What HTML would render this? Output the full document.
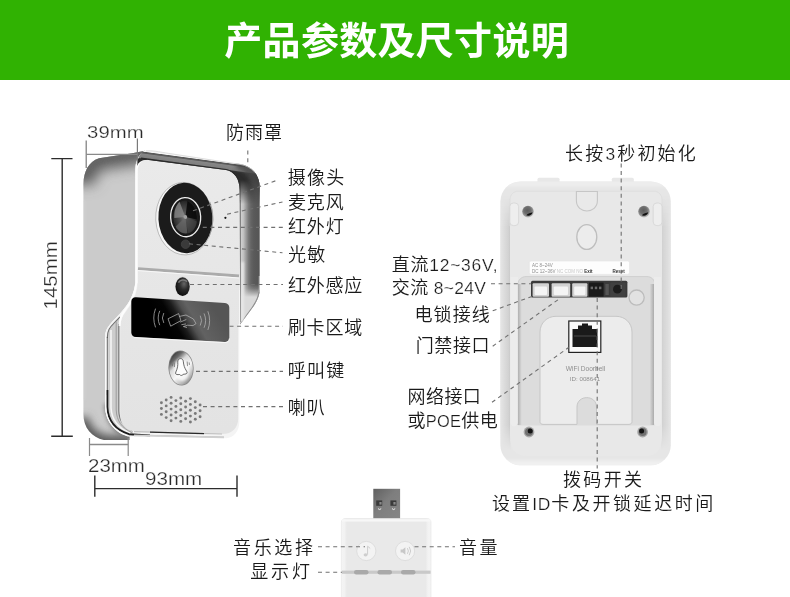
<!DOCTYPE html>
<html lang="zh-CN">
<head>
<meta charset="utf-8">
<title>产品参数及尺寸说明</title>
<style>
html,body{margin:0;padding:0;background:#fff;}
body{width:790px;height:597px;overflow:hidden;position:relative;font-family:"Liberation Sans","Noto Sans CJK SC",sans-serif;}
#stage{will-change:transform;position:absolute;left:0;top:0;width:790px;height:597px;display:block;}
.hd{font-family:"Liberation Sans","Noto Sans CJK SC",sans-serif;font-weight:700;font-size:38px;fill:#fff;letter-spacing:0.3px;}
.lb{font-family:"Liberation Sans","Noto Sans CJK SC",sans-serif;font-weight:350;font-size:18px;fill:#1a1a1a;letter-spacing:0.6px;}
.dm{font-family:"Liberation Sans","Noto Sans CJK SC",sans-serif;font-weight:400;font-size:17px;fill:#2a2a2a;stroke:#fff;stroke-width:0.25px;}
.la{font-size:17.4px;stroke:#fff;stroke-width:0.22px;}
.la2{font-size:16.4px;stroke:#fff;stroke-width:0.22px;}
.dash{stroke:#707070;stroke-width:1.1;stroke-dasharray:4 3.6;fill:none;}
.dim{stroke:#333;stroke-width:1.4;fill:none;}
</style>
</head>
<body>
<svg id="stage" width="790" height="597" viewBox="0 0 790 597">
<defs>
</defs>
<!-- HEADER -->
<rect x="0" y="0" width="790" height="80" fill="#30b202"/>
<text class="hd" x="224.3" y="54.3">产品参数及尺寸说明</text>

<!-- DEVICES -->
<g id="front">
<defs>
<filter id="b2" filterUnits="userSpaceOnUse" x="40" y="100" width="260" height="380"><feGaussianBlur stdDeviation="2"/></filter>
<filter id="b4" filterUnits="userSpaceOnUse" x="40" y="100" width="260" height="380"><feGaussianBlur stdDeviation="4.5"/></filter>
<filter id="b7" filterUnits="userSpaceOnUse" x="40" y="100" width="160" height="380"><feGaussianBlur stdDeviation="7"/></filter>
<filter id="b1" filterUnits="userSpaceOnUse" x="40" y="100" width="260" height="380"><feGaussianBlur stdDeviation="1"/></filter>
<filter id="b07" filterUnits="userSpaceOnUse" x="40" y="100" width="260" height="380"><feGaussianBlur stdDeviation="0.6"/></filter>
<linearGradient id="gHoodR" gradientUnits="userSpaceOnUse" x1="239.4" y1="0" x2="260" y2="0">
<stop offset="0" stop-color="#6a6a6a"/><stop offset="0.04" stop-color="#8a8a8a"/><stop offset="0.1" stop-color="#cecece"/><stop offset="0.2" stop-color="#c0c0c0"/><stop offset="0.32" stop-color="#9c9c9c"/><stop offset="0.44" stop-color="#7a7a7a"/><stop offset="0.56" stop-color="#646464"/><stop offset="0.7" stop-color="#5a5a5a"/><stop offset="0.93" stop-color="#565656"/><stop offset="1" stop-color="#787878"/></linearGradient>
<linearGradient id="gHoodRV" gradientUnits="userSpaceOnUse" x1="0" y1="284" x2="0" y2="297">
<stop offset="0" stop-color="#d4d4d4" stop-opacity="0"/><stop offset="0.35" stop-color="#d4d4d4" stop-opacity="0.25"/><stop offset="1" stop-color="#dadada" stop-opacity="1"/>
</linearGradient>
<linearGradient id="gCard" gradientUnits="userSpaceOnUse" x1="166" y1="329.6" x2="211" y2="303">
<stop offset="0" stop-color="#000"/><stop offset="0.2" stop-color="#040404"/><stop offset="0.33" stop-color="#1c1c1c"/><stop offset="0.47" stop-color="#505050"/><stop offset="0.58" stop-color="#626262"/><stop offset="1" stop-color="#555"/></linearGradient>
<radialGradient id="gLens" cx="0.45" cy="0.5" r="0.6">
<stop offset="0" stop-color="#7a7a7a"/><stop offset="0.3" stop-color="#505050"/><stop offset="0.75" stop-color="#2c2c2c"/><stop offset="1" stop-color="#111"/>
</radialGradient>
<radialGradient id="gIR" cx="0.6" cy="0.35" r="0.7">
<stop offset="0" stop-color="#666"/><stop offset="0.45" stop-color="#2c2c2c"/><stop offset="1" stop-color="#0a0a0a"/>
</radialGradient>
<linearGradient id="gBtn" x1="0.2" y1="0" x2="0.8" y2="1">
<stop offset="0" stop-color="#2c2c2c"/><stop offset="0.2" stop-color="#6a6a6a"/><stop offset="0.36" stop-color="#d8d8d8"/><stop offset="0.6" stop-color="#f6f6f6"/><stop offset="0.85" stop-color="#b4b4b4"/><stop offset="1" stop-color="#7a7a7a"/>
</linearGradient>
<clipPath id="cSide"><path d="M83.4 184 C83.6 172 88.5 161.5 99 158.3 L117 155.5 L131 153.6 L145 150.8 C140 153 136.5 158 135.6 166 L135.6 283 C133 300 124 310 112 322 C106.5 328 105 332 105 338 L105 407 C106 420 112 428 121.5 434 L129.5 436.6 L129.5 440 L104 440 C92 437.5 83.4 428 83.4 414 Z"/></clipPath>
<linearGradient id="gFace" gradientUnits="userSpaceOnUse" x1="0" y1="160" x2="0" y2="432"><stop offset="0" stop-color="#eaeaea"/><stop offset="0.5" stop-color="#e6e6e6"/><stop offset="1" stop-color="#e3e3e3"/></linearGradient>
<linearGradient id="gBandX" gradientUnits="userSpaceOnUse" x1="186" y1="155.7" x2="184.6" y2="166.1">
<stop offset="0" stop-color="#f6f6f6"/><stop offset="0.13" stop-color="#f4f4f4"/><stop offset="0.2" stop-color="#585858"/><stop offset="0.3" stop-color="#5c5c5c"/><stop offset="0.38" stop-color="#868686"/><stop offset="0.76" stop-color="#7e7e7e"/><stop offset="0.86" stop-color="#333"/><stop offset="1" stop-color="#2c2c2c"/>
</linearGradient>
<linearGradient id="gBandM" gradientUnits="userSpaceOnUse" x1="0" y1="180" x2="0" y2="204"><stop offset="0" stop-color="#fff"/><stop offset="1" stop-color="#000"/></linearGradient>
<mask id="mBand" maskUnits="userSpaceOnUse" x="130" y="140" width="140" height="80"><rect x="130" y="140" width="140" height="80" fill="url(#gBandM)"/></mask>
<clipPath id="cBand"><path d="M137 166 C137.5 157 141 151.2 146 150.6 C152 150 158 151.4 170 153.3 L240 164 C251 166 259.8 174 259.8 188 L259.8 210 L239.6 210 L239.6 190 C239.6 179 234.5 171.6 226 170 L148.6 159.9 C142 159.2 138 163 137 166 Z"/></clipPath>
<clipPath id="cHoodR"><path d="M239.6 190 C239.6 179 234.5 171.6 226 170 L240 164 C251 166 259.8 174 259.8 188 L259.8 288 C259.8 296 256.5 302 253 307 L240.1 324.6 Z"/></clipPath>
<clipPath id="cCard"><path d="M136 297.3 L225 303 C227.6 303.2 229.3 305 229.3 307.5 L229.3 337.8 C229.3 340.4 227.6 342 225 341.9 L136 337 C133.2 336.8 131.3 335 131.3 332.4 L131.3 301.6 C131.3 299 133.2 297.1 136 297.3 Z"/></clipPath>
</defs>
<g clip-path="url(#cSide)">
<rect x="80" y="148" width="70" height="295" fill="#cbcbcb"/>
<path d="M80 184 C81 166 88 157.5 99 155 L117 152.2 L131 150.2 L150 146.6" stroke="#5c5c5c" stroke-width="30" fill="none" filter="url(#b7)"/>
<path d="M86 174 C88 165 92 160.5 99 158.6 L117 155.8 L131 153.8 L146 151" stroke="#707070" stroke-width="4" fill="none" filter="url(#b2)" opacity="0.7"/>
<path d="M80 418 C83 434 93 441 106 443.5 L134 443.5" stroke="#5a5a5a" stroke-width="17" fill="none" filter="url(#b4)"/>
<path d="M107 404 C108 422 116 432 131 437" stroke="#707070" stroke-width="6" fill="none" filter="url(#b2)" opacity="0.8"/>
<path d="M84 200 L84 400" stroke="#d8d8d8" stroke-width="2" fill="none" filter="url(#b1)" opacity="0.5"/>
</g>
<path d="M135.6 283 C133 300 124 310 112 322 C106.5 328 105 332 105 338 L105 407 C106 420 112 428 121.5 434 L129.5 436.6 L226 438.2 C234 438 239.4 431 239.4 421 L239.4 324 L200 283 Z" fill="#f4f4f4"/>
<path d="M108.2 337 C108.2 331 110 328 115 323 L119.4 318.6 L119.4 412 C119.6 421 124 427.5 133 431.8 L133 435.6 C118 432 108.6 424 108.2 408 Z" fill="#cdcdcd"/>
<path d="M111 330 L111 408 C111.6 420 118 428 130 433" stroke="#f6f6f6" stroke-width="1.6" fill="none" filter="url(#b07)"/>
<path d="M107.3 338 C107.3 331 109.4 327.6 114.5 322.6 L120 317" stroke="#5a5a5a" stroke-width="1.1" fill="none" opacity="0.85"/>
<path d="M107.3 337 L107.3 395" stroke="#4a4a4a" stroke-width="1.1" fill="none" opacity="0.8"/>
<path d="M107.4 390 L107.4 407 C107.9 421 115 429.6 129 434.2 L150 435.4" stroke="#1e1e1e" stroke-width="1.9" fill="none" filter="url(#b07)"/>
<path d="M150 435.4 L224 437.2" stroke="#8a8a8a" stroke-width="1" fill="none" opacity="0.7"/>
<path d="M105.6 337 L105.6 407 C106.2 422 113.6 431 128.6 436.2" stroke="#fafafa" stroke-width="1.2" fill="none"/>
<path d="M116.2 321.5 L116.2 410 C116.6 421 122 428 132 432.6" stroke="#9c9c9c" stroke-width="1" fill="none"/>
<path d="M118.8 324 L118.8 411 C119 420 124 427 133 431" stroke="#6e6e6e" stroke-width="1.1" fill="none" opacity="0.9"/>
<path d="M137.6 172 C137.6 164 141.6 159 148.6 159.7 L226 169.4 C234 171.2 239.4 178 239.4 190 L239.4 324 L238.2 324 L238.2 418.5 C238.2 428 232 434.2 222 434 L136 431.6 C126.5 431 120.2 425 120.2 415 L120.2 326 C120.2 320.5 122 316.6 126 311.4 C133 302.6 137 294 137.6 283 Z" fill="url(#gFace)"/>
<path d="M152 153.2 C142.6 153.2 136.2 159 136.2 169 L136.2 283 C135.4 294 131.6 302 124.6 310.6 C120.8 315.6 119.6 320 119.6 326" stroke="#fdfdfd" stroke-width="2" fill="none"/>
<path d="M134 431.6 L222 434" stroke="#bdbdbd" stroke-width="1.2" fill="none"/>
<path d="M150 432.2 L204 433.6" stroke="#2a2a2a" stroke-width="1.3" fill="none" filter="url(#b07)"/>
<path d="M134 435.4 L224 437.4" stroke="#d0d0d0" stroke-width="1.6" fill="none" filter="url(#b07)"/>
<path d="M138 268.6 L239 276" stroke="#ababab" stroke-width="2.8" fill="none"/>
<path d="M138 270.6 L239 278" stroke="#f8f8f8" stroke-width="1" fill="none"/>
<g clip-path="url(#cHoodR)">
<rect x="238" y="160" width="24" height="166" fill="url(#gHoodR)"/>
<rect x="238" y="280" width="24" height="46" fill="url(#gHoodRV)"/>
<path d="M259.6 290 C259 297 256 302.6 252.6 307.4 L240.4 324.2" stroke="#8c8c8c" stroke-width="1.6" fill="none" filter="url(#b07)"/>
<path d="M242.4 262 L242.4 322" stroke="#e8e8e8" stroke-width="3" fill="none" filter="url(#b1)"/>
<path d="M259.4 276 L259.4 292" stroke="#c8c8c8" stroke-width="1.2" fill="none" filter="url(#b07)"/>
<path d="M240.3 200 L240.3 322" stroke="#7a7a7a" stroke-width="0.9" fill="none"/>
</g>
<g mask="url(#mBand)"><g clip-path="url(#cBand)">
<rect x="130" y="145" width="135" height="65" fill="url(#gBandX)"/>
<path d="M236 158 L262 160 C264 170 264 190 264 215 L254 215 C254 190 252 174 236 168 Z" fill="#484848" filter="url(#b2)" opacity="0.8"/>
<path d="M141 158.4 L226 169.8 C234.6 171.4 240 178.6 240 190 L240 210" stroke="#2a2a2a" stroke-width="1.8" fill="none" filter="url(#b07)"/>
</g></g>
<path d="M146 150.9 C152 150.3 158 151.7 170 153.6 L240 164.3 C246 165.4 251 168 254.6 172" stroke="#d4d4d4" stroke-width="0.8" fill="none" opacity="0.9"/>
<g transform="rotate(-3 185 218)">
<ellipse cx="184.1" cy="218.6" rx="28.4" ry="36.3" fill="#f6f6f6"/>
<ellipse cx="184.1" cy="218.6" rx="28.4" ry="36.3" fill="none" stroke="#a4a4a4" stroke-width="0.7"/>
<ellipse cx="185.4" cy="218" rx="27" ry="35.2" fill="#1b1b1b"/>
<path d="M210.6 203 A27 35.2 0 0 1 208 238" stroke="#8a8a8a" stroke-width="0.9" fill="none" opacity="0.8"/>
<ellipse cx="185.7" cy="217.2" rx="15" ry="19.6" fill="#191919" stroke="#ececec" stroke-width="1.3"/>
<ellipse cx="185.6" cy="217.2" rx="12.2" ry="16.6" fill="url(#gLens)"/>
<path d="M185.4 217 L180.4 201.6 C176.4 205 174.2 211 174.4 217.4 Z" fill="#8c8c8c" opacity="0.75"/>
<path d="M185.4 217 L175.2 226 C177.4 231.4 182 233.8 186.6 233.4 Z" fill="#6a6a6a" opacity="0.7"/>
<path d="M185.4 217 L188.4 201.2 C194.6 205 197.4 212 196.8 220 Z" fill="#0a0a0a" opacity="0.9"/>
<path d="M185.4 217 L196.6 222 C195.6 228.4 191.4 232.4 187.4 233.4 Z" fill="#4a4a4a" opacity="0.6"/>
<circle cx="185.4" cy="217" r="1.9" fill="#a0a0a0"/>
<circle cx="184.2" cy="244.2" r="4.3" fill="#3a3a3a"/>
<circle cx="184.2" cy="244.2" r="4.3" fill="none" stroke="#4c4c4c" stroke-width="0.6"/>
</g>
<circle cx="225.4" cy="217.8" r="1.1" fill="#111"/>
<ellipse cx="182.5" cy="286.4" rx="7.5" ry="9.8" fill="#d6d6d6"/>
<ellipse cx="182.6" cy="286.6" rx="7.1" ry="9.4" fill="url(#gIR)"/>
<path d="M178.4 282.6 C180 279.6 184.6 279 187 281.6" stroke="#8a8a8a" stroke-width="1.6" fill="none" filter="url(#b07)" opacity="0.8"/>
<g clip-path="url(#cCard)">
<rect x="130" y="295" width="101" height="49" fill="url(#gCard)"/>
</g>
<path d="M133.6 336.9 L225 341.9 C227.6 342 229.3 340.4 229.3 337.8" stroke="#fafafa" stroke-width="0.9" fill="none" opacity="0.9" transform="translate(0,0.7)"/>
<g stroke="#b4b4b4" stroke-width="0.75" fill="none" stroke-linecap="round">
<path d="M163.6 313.4 Q161.0 318.0 163.6 322.6"/>
<path d="M159.6 311.2 Q156.6 318.0 159.6 324.8"/>
<path d="M155.4 309.0 Q152.0 318.0 155.4 327.0"/>
<path d="M200.4 316.0 Q203.0 320.6 200.4 325.2"/>
<path d="M204.2 313.8 Q207.2 320.6 204.2 327.4"/>
<path d="M208.0 311.6 Q211.4 320.6 208.0 329.6"/>
<path d="M168.4 318.6 L178.6 313.6 L181 320.6 L171 326 Z"/>
<path d="M179.6 316.4 L186 315 L193.4 319 L196 323.6 L193 325.6 L187.6 325.2 L184 326.4 M180.6 322 L186 319.6 M181.8 324.6 L185.6 324 M183.6 326.6 L186.6 327.4"/>
</g>
<g transform="rotate(-4 181 368)">
<ellipse cx="181" cy="368" rx="12.6" ry="17.6" fill="#8a8a8a"/>
<ellipse cx="181" cy="368" rx="11.8" ry="16.8" fill="url(#gBtn)"/>
<ellipse cx="181.6" cy="370" rx="7.6" ry="11" fill="#fbfbfb" filter="url(#b1)" opacity="0.85"/>
<path d="M181 358.6 C179 358.6 178.2 360.2 178.2 362 C178.2 365 177.6 368 175.6 371.6 C174.6 373.4 175.6 374.4 177.6 374.4 L179.2 374.4 C179.6 375.8 182.4 375.8 182.8 374.4 L184.4 374.4 C186.4 374.4 187.4 373.4 186.4 371.6 C184.4 368 183.8 365 183.8 362 C183.8 360.2 183 358.6 181 358.6 Z" fill="#fdfdfd" stroke="#4a4a4a" stroke-width="0.8"/>
<path d="M174.6 362 L174.6 366.6 M172.6 363 L172.6 365.6 M187.6 362 L187.6 366.6 M189.6 363 L189.6 365.6" stroke="#666" stroke-width="0.7" fill="none"/>
</g>
<g fill="#7a7a7a"><circle cx="161.4" cy="402.7" r="1.45"/><circle cx="161.4" cy="408.5" r="1.45"/><circle cx="161.4" cy="414.4" r="1.45"/><circle cx="166.2" cy="400.0" r="1.45"/><circle cx="166.2" cy="405.9" r="1.45"/><circle cx="166.2" cy="411.7" r="1.45"/><circle cx="166.2" cy="417.6" r="1.45"/><circle cx="171.1" cy="397.4" r="1.45"/><circle cx="171.1" cy="403.3" r="1.45"/><circle cx="171.1" cy="409.1" r="1.45"/><circle cx="171.1" cy="415.0" r="1.45"/><circle cx="171.1" cy="420.8" r="1.45"/><circle cx="175.9" cy="400.6" r="1.45"/><circle cx="175.9" cy="406.4" r="1.45"/><circle cx="175.9" cy="412.3" r="1.45"/><circle cx="175.9" cy="418.1" r="1.45"/><circle cx="180.8" cy="398.0" r="1.45"/><circle cx="180.8" cy="403.8" r="1.45"/><circle cx="180.8" cy="409.7" r="1.45"/><circle cx="180.8" cy="415.5" r="1.45"/><circle cx="180.8" cy="421.4" r="1.45"/><circle cx="185.6" cy="401.2" r="1.45"/><circle cx="185.6" cy="407.0" r="1.45"/><circle cx="185.6" cy="412.9" r="1.45"/><circle cx="185.6" cy="418.7" r="1.45"/><circle cx="190.4" cy="398.6" r="1.45"/><circle cx="190.4" cy="404.4" r="1.45"/><circle cx="190.4" cy="410.3" r="1.45"/><circle cx="190.4" cy="416.1" r="1.45"/><circle cx="190.4" cy="422.0" r="1.45"/><circle cx="195.3" cy="401.8" r="1.45"/><circle cx="195.3" cy="407.6" r="1.45"/><circle cx="195.3" cy="413.5" r="1.45"/><circle cx="195.3" cy="419.3" r="1.45"/><circle cx="200.1" cy="405.0" r="1.45"/><circle cx="200.1" cy="410.8" r="1.45"/><circle cx="200.1" cy="416.7" r="1.45"/></g>
</g>
<g id="back">
<defs>
<linearGradient id="gBk" x1="0" y1="0" x2="1" y2="0">
<stop offset="0" stop-color="#eeeeee"/><stop offset="0.025" stop-color="#f4f4f4"/><stop offset="0.975" stop-color="#f4f4f4"/><stop offset="1" stop-color="#ececec"/>
</linearGradient>
<radialGradient id="gScrew" cx="0.45" cy="0.4" r="0.6">
<stop offset="0" stop-color="#5e5e5e"/><stop offset="0.5" stop-color="#6e6e6e"/><stop offset="0.8" stop-color="#949494"/><stop offset="1" stop-color="#c0c0c0"/>
</radialGradient>
<linearGradient id="gShL" gradientUnits="userSpaceOnUse" x1="500.4" y1="0" x2="510.4" y2="0"><stop offset="0" stop-color="#e6e6e6"/><stop offset="0.3" stop-color="#dedede"/><stop offset="0.8" stop-color="#d2d2d2"/><stop offset="1" stop-color="#c8c8c8"/></linearGradient>
<linearGradient id="gShR" gradientUnits="userSpaceOnUse" x1="670.8" y1="0" x2="661" y2="0"><stop offset="0" stop-color="#e6e6e6"/><stop offset="0.3" stop-color="#dedede"/><stop offset="0.8" stop-color="#d4d4d4"/><stop offset="1" stop-color="#cacaca"/></linearGradient>
<linearGradient id="gRailL" gradientUnits="userSpaceOnUse" x1="517.6" y1="0" x2="521.8" y2="0"><stop offset="0" stop-color="#ababab"/><stop offset="1" stop-color="#dcdcdc"/></linearGradient>
<linearGradient id="gRailR" gradientUnits="userSpaceOnUse" x1="654" y1="0" x2="649.6" y2="0"><stop offset="0" stop-color="#ababab"/><stop offset="1" stop-color="#dcdcdc"/></linearGradient>
<filter id="bk2" filterUnits="userSpaceOnUse" x="480" y="160" width="220" height="330"><feGaussianBlur stdDeviation="2"/></filter>
<linearGradient id="gShM" gradientUnits="userSpaceOnUse" x1="0" y1="196" x2="0" y2="450"><stop offset="0" stop-color="#000"/><stop offset="0.12" stop-color="#fff"/><stop offset="0.9" stop-color="#fff"/><stop offset="1" stop-color="#000"/></linearGradient>
<mask id="mSh" maskUnits="userSpaceOnUse" x="495" y="190" width="180" height="265"><rect x="495" y="190" width="180" height="265" fill="url(#gShM)"/></mask>
<clipPath id="cShell"><rect x="500.4" y="181.4" width="170.4" height="283.8" rx="20" ry="20"/></clipPath>
</defs>
<!-- tabs -->
<rect x="537.5" y="177.8" width="22" height="6" rx="1.5" fill="#e8e8e8"/>
<rect x="611.8" y="177.8" width="22" height="6" rx="1.5" fill="#e8e8e8"/>
<!-- outer shell -->
<rect x="500.4" y="181.4" width="170.4" height="283.8" rx="20" ry="20" fill="#e6e6e6"/>
<g clip-path="url(#cShell)">
<g mask="url(#mSh)"><rect x="500" y="196" width="10.5" height="254" fill="url(#gShL)"/>
<rect x="661" y="196" width="10.5" height="254" fill="url(#gShR)"/></g>
<rect x="496" y="181" width="180" height="5" fill="#f0f0f0" filter="url(#bk2)"/>
<rect x="496" y="461" width="180" height="6" fill="#f2f2f2" filter="url(#bk2)"/>
</g>
<!-- inner panel -->
<path d="M518 191.2 L654 191.2 C658.5 191.2 662 195 662 199.5 L662 436 C662 450 656 456 646 456 L526 456 C516 456 510 450 510 436 L510 199.5 C510 195 513.5 191.2 518 191.2 Z" fill="#e8e8e8"/>
<path d="M510 226 L510 199.5 C510 195 513.5 191.2 518 191.2 L654 191.2 C658.5 191.2 662 195 662 199.5 L662 226" fill="none" stroke="#dedede" stroke-width="0.9"/>
<!-- top slots -->
<rect x="509.8" y="203" width="8.8" height="22.6" rx="3.6" fill="#eeeeee" stroke="#d4d4d4" stroke-width="0.8"/>
<rect x="653.2" y="203" width="8.8" height="22.6" rx="3.6" fill="#eeeeee" stroke="#d4d4d4" stroke-width="0.8"/>
<!-- recessed panel -->
<path d="M518 425.5 L518 284 C518 280 521.5 276.6 526 276.6 L647 276.6 C651.5 276.6 654.7 280 654.7 284 L654.7 425.5 Z" fill="#dcdcdc"/>
<path d="M518 300 L518 284 C518 280 521.5 276.6 526 276.6 L647 276.6 C651.5 276.6 654.7 280 654.7 284 L654.7 300" fill="none" stroke="#cfcfcf" stroke-width="1"/>
<!-- rails -->
<rect x="517.6" y="284" width="4.2" height="141" fill="url(#gRailL)"/>
<rect x="649.6" y="284" width="4.4" height="141" fill="url(#gRailR)"/>
<path d="M510.5 277 L517.8 277 L517.8 422.6 C517.8 427.4 510.5 427.4 510.5 422.6 Z" fill="#ececec"/>
<path d="M654 277 L661.2 277 L661.2 422.6 C661.2 427.4 654 427.4 654 422.6 Z" fill="#ececec"/>
<!-- keyhole slots -->
<path d="M576.4 191.5 L576.4 200.6 C576.4 214.4 597.4 214.4 597.4 200.6 L597.4 191.5 Z" fill="#e9e9e9" stroke="#c6c6c6" stroke-width="1.1"/>
<ellipse cx="586.8" cy="237" rx="10" ry="12.4" fill="#ececec" stroke="#bebebe" stroke-width="1.3"/>
<!-- screw holes -->
<circle cx="528" cy="211.6" r="5.8" fill="url(#gScrew)"/>
<path d="M526.2 215.2 C529 216.6 532 214.8 532.6 212.2 C530.6 212.6 528 213.4 526.2 215.2 Z" fill="#111"/>
<circle cx="644" cy="211.6" r="5.8" fill="url(#gScrew)"/>
<path d="M641.8 215.2 C644.6 216.6 647.6 214.8 648.2 212.2 C646.2 212.6 643.6 213.4 641.8 215.2 Z" fill="#111"/>
<circle cx="529" cy="432" r="5.4" fill="#a8a8a8"/>
<circle cx="529" cy="432" r="4" fill="#707070"/>
<circle cx="530.2" cy="431" r="2.5" fill="#141414"/>
<circle cx="642.6" cy="432" r="5.4" fill="#a8a8a8"/>
<circle cx="642.6" cy="432" r="4" fill="#707070"/>
<circle cx="641.6" cy="431" r="2.5" fill="#141414"/>
<!-- sticker -->
<rect x="529.3" y="261" width="100.2" height="13.4" rx="1.8" fill="#fdfdfd" stroke="#e4e4e4" stroke-width="0.6"/>
<text x="532" y="266.6" font-family="'Liberation Sans',sans-serif" font-size="4.5" fill="#8e8e8e">AC 8~24V</text>
<text x="532" y="272.6" font-family="'Liberation Sans',sans-serif" font-size="4.5" fill="#8e8e8e">DC 12~36V <tspan fill="#c8c8c8">NC COM NO</tspan> <tspan fill="#333" font-weight="700">Exit</tspan></text>
<text x="612.6" y="272.6" font-family="'Liberation Sans',sans-serif" font-size="4.5" font-weight="700" fill="#333">Reset</text>
<!-- connector strip -->
<rect x="531" y="280.8" width="96.4" height="16.8" rx="1.5" fill="#3a3a3a"/>
<rect x="532.6" y="283.2" width="16.4" height="13.6" rx="1" fill="#d2d2d2"/>
<rect x="551.6" y="283.2" width="18.6" height="13.6" rx="1" fill="#d2d2d2"/>
<rect x="572.2" y="283.2" width="15.2" height="13.6" rx="1" fill="#d2d2d2"/>
<rect x="534.6" y="286.6" width="12.4" height="8.4" rx="1" fill="#f4f4f4"/>
<rect x="553.8" y="286.6" width="14.2" height="8.4" rx="1" fill="#f4f4f4"/>
<rect x="574.2" y="286.6" width="11.2" height="8.4" rx="1" fill="#f4f4f4"/>
<rect x="589" y="282.6" width="14.6" height="14" fill="#1a1a1a"/>
<rect x="590.6" y="286.6" width="2.4" height="2.6" fill="#6a6a6a"/><rect x="594.8" y="286.6" width="2.4" height="2.6" fill="#6a6a6a"/><rect x="599" y="286.6" width="2.4" height="2.6" fill="#6a6a6a"/>
<rect x="605.4" y="284" width="3.4" height="11" fill="#555"/>
<rect x="610.2" y="282.4" width="15.4" height="14.4" rx="1" fill="#404040"/>
<circle cx="617.4" cy="289.2" r="4.4" fill="#1c1c1c"/>
<!-- round hole -->
<circle cx="636.6" cy="297.6" r="7.6" fill="#e2e2e2" stroke="#bcbcbc" stroke-width="1.3"/>
<!-- raised tab -->
<path d="M540 421.5 L540 332 C540 323 547 316.3 556 316.3 L616 316.3 C625 316.3 632 323 632 332 L632 421.5 C632 423.2 630.8 424.4 629 424.4 L596.5 424.4 L596.5 407 C596.5 394.5 577 394.5 577 407 L577 424.4 L543 424.4 C541.2 424.4 540 423.2 540 421.5 Z" fill="#ececec" stroke="#c6c6c6" stroke-width="1"/>
<!-- RJ45 -->
<rect x="568.8" y="321" width="32" height="31.4" fill="#fafafa" stroke="#222" stroke-width="1.2"/>
<path d="M572.5 347 L572.5 329 L578 329 L578 325.5 L582 325.5 L582 323.5 L588 323.5 L588 325.5 L592 325.5 L592 329 L597.5 329 L597.5 347 Z" fill="#1a1a1a"/>
<path d="M574 336 L596 336" stroke="#555" stroke-width="0.8"/>
<text x="585.5" y="371" text-anchor="middle" font-family="'Liberation Sans',sans-serif" font-size="6.6" fill="#8e8e8e">WiFi Doorbell</text>
<text x="585" y="380.6" text-anchor="middle" font-family="'Liberation Sans',sans-serif" font-size="6.2" fill="#8e8e8e">ID: 008641</text>
</g>
<g id="chime">
<defs>
<linearGradient id="gUsb" x1="0" y1="0" x2="1" y2="1">
<stop offset="0" stop-color="#606060"/><stop offset="0.45" stop-color="#7e7e7e"/><stop offset="1" stop-color="#868686"/>
</linearGradient>
<linearGradient id="gCh" x1="0" y1="0" x2="1" y2="0">
<stop offset="0" stop-color="#f4f4f4"/><stop offset="0.035" stop-color="#f2f2f2"/><stop offset="0.06" stop-color="#e9e9e9"/><stop offset="0.94" stop-color="#e9e9e9"/><stop offset="0.965" stop-color="#f2f2f2"/><stop offset="1" stop-color="#f4f4f4"/>
</linearGradient>
</defs>
<rect x="373.3" y="488.8" width="26.8" height="30" fill="url(#gUsb)"/>
<rect x="376.2" y="500.4" width="6" height="5.4" fill="#3a3a3a"/><rect x="379.4" y="502" width="2.2" height="2.6" fill="#8a8a8a"/>
<rect x="390.4" y="500.4" width="6" height="5.4" fill="#3a3a3a"/><rect x="393.4" y="502" width="2.2" height="2.6" fill="#8a8a8a"/>
<path d="M378 508.6 q1.6 2 3.2 0" stroke="#eee" stroke-width="1" fill="none"/>
<path d="M392 508.6 q1.6 2 3.2 0" stroke="#eee" stroke-width="1" fill="none"/>
<path d="M341.4 600 L341.4 522 C341.4 520 343 518.6 345 518.6 L427.4 518.6 C429.4 518.6 431 520 431 522 L431 600 Z" fill="url(#gCh)" stroke="#e6e6e6" stroke-width="0.7"/>
<rect x="342" y="519.2" width="88.4" height="2.4" fill="#f7f7f7"/>
<rect x="342" y="570.6" width="88.6" height="3.2" fill="#c9c9c9"/>
<rect x="354" y="570" width="14.5" height="4.4" rx="2.2" fill="#a9a9a9"/>
<rect x="377.5" y="570" width="14.5" height="4.4" rx="2.2" fill="#a9a9a9"/>
<rect x="401" y="570" width="14.5" height="4.4" rx="2.2" fill="#a9a9a9"/>
<circle cx="366.3" cy="551" r="9.6" fill="#f3f3f3" stroke="#dedede" stroke-width="1"/>
<circle cx="405.1" cy="551" r="9.6" fill="#f3f3f3" stroke="#dedede" stroke-width="1"/>
<path d="M367.6 554.5 L367.6 546.2 L370.2 548.4" stroke="#cecece" stroke-width="1" fill="none"/>
<ellipse cx="365.6" cy="554.8" rx="2" ry="1.6" fill="#cecece"/>
<path d="M400.6 549.6 L402.6 549.6 L405.4 547.2 L405.4 554.8 L402.6 552.4 L400.6 552.4 Z" fill="#c8c8c8"/>
<path d="M407.4 548.2 q2 2.8 0 5.6 M409.2 546.8 q3 4.2 0 8.4" stroke="#c8c8c8" stroke-width="0.9" fill="none"/>
</g>

<!-- DIMENSIONS -->
<g id="dims">
<!-- 39mm -->
<path d="M86.2 140.5 L86.2 168 M137.4 138.5 L137.4 164" stroke="#7a7a7a" stroke-width="1.2" fill="none"/>
<path d="M86.2 154.4 L137.4 154.4" stroke="#8a8a8a" stroke-width="1.4" fill="none"/>
<!-- 145mm -->
<path d="M51.3 158.6 L72.5 158.6 M62.2 158.6 L62.2 436.2 M51.2 436.2 L72.8 436.2" stroke="#2c2c2c" stroke-width="1.4" fill="none"/>
<!-- 23mm -->
<path d="M89.5 438 L89.5 456 M128.2 438 L128.2 456" stroke="#8a8a8a" stroke-width="1.2" fill="none"/>
<path d="M89.5 444.5 L128.2 444.5" stroke="#8a8a8a" stroke-width="1.3" fill="none"/>
<!-- 93mm -->
<path d="M94.8 475.4 L94.8 496.7 M94.8 488.6 L237 488.6 M237 475.4 L237 496.7" stroke="#2c2c2c" stroke-width="1.4" fill="none"/>
<text class="dm" x="87.1" y="138.2" style="font-size:17.2px" textLength="56.5" lengthAdjust="spacingAndGlyphs">39mm</text>
<text class="dm" x="88" y="471.5" style="font-size:18.6px" textLength="56.9" lengthAdjust="spacingAndGlyphs">23mm</text>
<text class="dm" x="145" y="484.6" style="font-size:17.6px" textLength="57.2" lengthAdjust="spacingAndGlyphs">93mm</text>
<text class="dm" transform="translate(56.7,309.4) rotate(-90)" style="font-size:18px" textLength="68.2" lengthAdjust="spacingAndGlyphs">145mm</text>
</g>

<!-- LABELS -->
<g id="labels">
<g class="dash">
<path d="M247.8 150.6 L247.8 163"/>
<path d="M193 210.8 L277.5 180.1"/>
<path d="M227 214.2 L282.5 202"/>
<path d="M202.8 227.4 L283 227.4"/>
<path d="M189 243.8 L282.5 252.8"/>
<path d="M190 284.5 L283 284.5"/>
<path d="M229.5 326.3 L283 326.3"/>
<path d="M196 371.4 L283 371.4"/>
<path d="M203 406.6 L283 406.6"/>
<path d="M621.2 163.4 L621.2 290"/>
<path d="M491 283.7 L531 283.7"/>
<path d="M492.7 310.8 L532 296.4"/>
<path d="M492.7 346.2 L558.5 299.4"/>
<path d="M492 402.3 L568.6 347.5"/>
<path d="M597.2 298 L597.2 468.6"/>
<path d="M318 546.7 L365 546.7"/>
<path d="M318 572.2 L342 572.2"/>
<path d="M414.5 546.7 L455 546.7"/>
</g>
<text class="lb" x="226" y="139" style="letter-spacing:0.95px">防雨罩</text>
<text class="lb" x="287.8" y="183.6" style="letter-spacing:1.2px">摄像头</text>
<text class="lb" x="287.9" y="209.1" style="letter-spacing:0.9px">麦克风</text>
<text class="lb" x="287.9" y="232.5" style="letter-spacing:0.9px">红外灯</text>
<text class="lb" x="288.0" y="261" style="letter-spacing:1.2px">光敏</text>
<text class="lb" x="288.0" y="291.8" style="letter-spacing:0.75px">红外感应</text>
<text class="lb" x="287.8" y="333.5" style="letter-spacing:0.8px">刷卡区域</text>
<text class="lb" x="287.8" y="377.4" style="letter-spacing:1.2px">呼叫键</text>
<text class="lb" x="287.8" y="413.6" style="letter-spacing:1.0px">喇叭</text>
<text class="lb" x="565" y="160" style="letter-spacing:2.18px">长按<tspan class="la">3</tspan>秒初始化</text>
<text class="lb" x="391.8" y="271.2" style="letter-spacing:0.76px">直流<tspan class="la">12~36V,</tspan></text>
<text class="lb" x="391.8" y="293.6" style="letter-spacing:0.36px">交流<tspan class="la"> 8~24V</tspan></text>
<text class="lb" x="414.5" y="320.5" style="letter-spacing:1.1px">电锁接线</text>
<text class="lb" x="415.7" y="351.8" style="letter-spacing:0.6px">门禁接口</text>
<text class="lb" x="407.5" y="403" style="letter-spacing:0.45px">网络接口</text>
<text class="lb" x="407.5" y="426.5" style="letter-spacing:0.3px">或<tspan class="la2">POE</tspan>供电</text>
<text class="lb" x="563" y="486.3" style="letter-spacing:2.36px">拨码开关</text>
<text class="lb" x="492" y="509.5" style="letter-spacing:2.56px"><tspan style="letter-spacing:2.06px">设置</tspan><tspan class="la" style="letter-spacing:0.9px">ID</tspan>卡及开锁延迟时间</text>
<text class="lb" x="233.1" y="554" style="letter-spacing:2.6px">音乐选择</text>
<text class="lb" x="250.3" y="577.5" style="letter-spacing:2.8px">显示灯</text>
<text class="lb" x="459" y="554" style="letter-spacing:2.5px">音量</text>
</g>
</svg>
</body>
</html>
